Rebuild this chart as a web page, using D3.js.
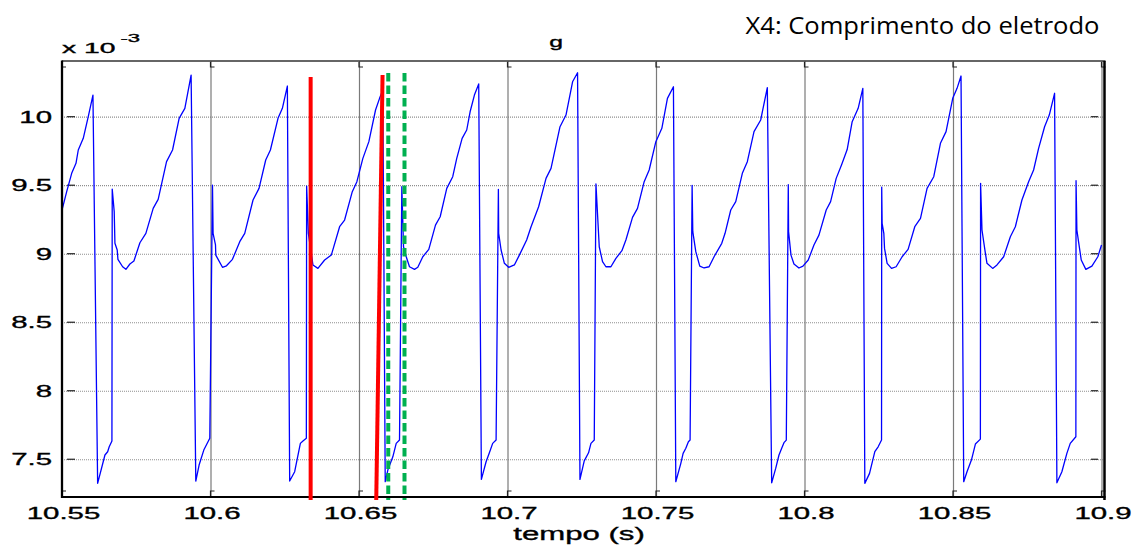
<!DOCTYPE html>
<html>
<head>
<meta charset="utf-8">
<script src="https://cdn.jsdelivr.net/npm/d3@7"></script>
<style>
  html, body { margin: 0; padding: 0; background: #ffffff; }
  svg { display: block; }
</style>
</head>
<body>
<svg id="chart" width="1141" height="549"></svg>
<script>
// ---------- data (time in s, g in units of 1e-3) ----------
const timeS = [
  10.55000,10.55158,10.55326,10.55471,10.55548,10.55716,10.55884,10.56042,
  10.56200,10.56446,10.56537,10.56590,10.56681,
  10.56691,10.56758,10.56782,10.56859,10.56883,10.57041,10.57152,
  10.57286,10.57421,10.57623,10.57824,10.58070,10.58238,10.58520,10.58722,10.58944,10.59136,10.59347,
  10.59505,10.59616,10.59774,10.59976,
  10.60067,10.60087,10.60168,10.60178,10.60403,10.60538,10.60739,10.60985,10.61153,10.61432,10.61634,10.61859,10.62017,10.62273,10.62420,10.62588,
  10.62666,10.62834,10.63026,10.63113,10.63227,
  10.63237,10.63295,10.63449,10.63617,10.63843,10.64068,10.64347,10.64515,10.64774,10.64929,10.65130,10.65332,10.65557,10.65692,10.65803,
  10.65883,10.65971,10.66139,10.66253,10.66364,
  10.66442,10.66499,10.66590,10.66700,10.66869,10.66980,10.67148,10.67350,10.67575,10.67733,10.67955,10.68156,10.68291,10.68472,10.68627,10.68741,10.68886,10.69031,
  10.69121,10.69279,10.69390,10.69501,10.69616,
  10.69693,10.69703,10.69784,10.69895,10.70039,10.70231,10.70399,10.70645,10.70793,10.71048,10.71297,10.71465,10.71768,10.71969,10.72191,10.72359,
  10.72440,10.72584,10.72729,10.72810,10.72921,
  10.72978,10.73089,10.73200,10.73314,10.73482,10.73650,10.73852,10.73986,10.74209,10.74377,10.74602,10.74770,10.74995,10.75197,10.75385,10.75587,
  10.75667,10.75836,10.75913,10.76004,10.76091,10.76148,
  10.76216,10.76239,10.76340,10.76474,10.76619,10.76787,10.76955,10.77214,10.77325,10.77517,10.77685,10.77907,10.78075,10.78300,10.78525,10.78748,
  10.78895,10.79030,10.79141,10.79232,10.79309,10.79387,
  10.79454,10.79464,10.79545,10.79645,10.79813,10.79948,10.80126,10.80318,10.80486,10.80731,10.80879,10.81067,10.81249,10.81437,10.81605,10.81807,10.81964,
  10.82031,10.82190,10.82368,10.82480,10.82594,
  10.82600,10.82614,10.82671,10.82695,10.82782,10.82930,10.83085,10.83287,10.83488,10.83713,10.83905,10.84127,10.84352,10.84577,10.84766,10.84991,10.85136,10.85270,
  10.85361,10.85472,10.85620,10.85754,10.85922,
  10.85929,10.85976,10.86091,10.86144,10.86336,10.86481,10.86706,10.86931,10.87099,10.87321,10.87546,10.87714,10.87882,10.88084,10.88242,10.88420,
  10.88498,10.88666,10.88834,10.88948,10.89137,
  10.89143,10.89171,10.89227,10.89318,10.89473,10.89676,10.89877,10.90000
];
const gValues = [
  9.319,9.453,9.587,9.660,9.757,9.842,10.000,10.158,
  7.324,7.531,7.555,7.591,7.633,
  9.472,9.307,9.076,9.027,8.959,8.905,8.886,
  8.925,8.947,9.080,9.149,9.331,9.397,9.672,9.757,9.988,10.061,10.304,
  7.341,7.458,7.567,7.653,
  9.501,9.149,9.064,8.990,8.901,8.912,8.959,9.088,9.149,9.392,9.477,9.684,9.757,9.988,10.061,10.224,
  7.341,7.409,7.616,7.633,7.653,
  9.494,9.149,8.918,8.893,8.954,8.990,9.197,9.246,9.453,9.526,9.696,9.818,10.049,10.134,10.195,
  7.336,7.421,7.518,7.616,7.640,
  9.489,9.051,8.978,8.905,8.886,8.901,8.978,9.032,9.209,9.270,9.477,9.562,9.696,9.842,9.903,10.036,10.158,10.239,
  7.353,7.482,7.547,7.616,7.640,
  9.470,9.149,9.027,8.930,8.901,8.918,8.990,9.100,9.197,9.343,9.550,9.623,9.927,10.012,10.255,10.321,
  7.353,7.488,7.547,7.616,7.640,
  9.509,9.051,8.942,8.905,8.905,8.966,9.022,9.100,9.265,9.331,9.526,9.611,9.818,9.915,10.134,10.219,
  7.336,7.470,7.543,7.580,7.628,7.640,
  9.499,9.161,9.015,8.910,8.896,8.905,8.978,9.076,9.149,9.319,9.380,9.587,9.672,9.891,9.976,10.212,
  7.328,7.433,7.531,7.580,7.621,7.640,
  9.504,9.161,8.990,8.925,8.896,8.910,8.954,9.064,9.136,9.319,9.380,9.550,9.650,9.760,9.964,10.061,10.207,
  7.324,7.397,7.555,7.591,7.640,
  9.485,9.222,9.149,9.039,8.930,8.893,8.905,8.978,9.032,9.197,9.258,9.477,9.562,9.806,9.891,10.134,10.207,10.297,
  7.336,7.409,7.494,7.611,7.647,
  9.514,9.173,9.003,8.930,8.893,8.918,8.978,9.124,9.197,9.392,9.526,9.611,9.769,9.927,10.012,10.171,
  7.328,7.409,7.543,7.616,7.664,
  9.533,9.173,9.088,8.954,8.886,8.910,8.978,9.064
];

const xTicks = [10.55, 10.6, 10.65, 10.7, 10.75, 10.8, 10.85, 10.9];
const xTickLabels = ["10.55", "10.6", "10.65", "10.7", "10.75", "10.8", "10.85", "10.9"];
const yTicks = [7.5, 8, 8.5, 9, 9.5, 10];
const yTickLabels = ["7.5", "8", "8.5", "9", "9.5", "10"];

// annotation markers (red solid, green dashed)
const redTimeTop = [10.63372, 10.65793];
const redTimeBottom = [10.63372, 10.65581];
const redValueTop = [10.290, 10.304];
const greenTime = [10.65985, 10.66532];
const greenValueTop = [10.319, 10.319];
const markerValueBottom = 7.203;

const titleText = "g";
const xLabelText = "tempo (s)";
const exponentBase = "x 10";
const exponentPower = "-3";
const headerText = "X4: Comprimento do eletrodo";

// ---------- layout ----------
const L = 62, R = 1101.5, T = 61, B = 497;
const svg = d3.select("#chart");

const x = d3.scaleLinear().domain([10.55, 10.9]).range([L, R]);
const y = d3.scaleLinear().domain([7.2245, 10.4066]).range([B, T]);

const fontAxis = "'Liberation Sans', Arial, Helvetica, sans-serif";

svg.append("defs").append("clipPath").attr("id", "plotClip")
  .append("rect").attr("x", L).attr("y", T).attr("width", 1104 - L).attr("height", B - T);

// horizontal grid (dotted)
svg.append("g")
  .attr("transform", `translate(${L},0)`)
  .call(d3.axisLeft(y).tickValues(yTicks).tickSize(-(1104 - L)).tickFormat(""))
  .call(g => g.select(".domain").remove())
  .call(g => g.selectAll("line").attr("stroke", "#8f8f8f").attr("stroke-width", 1.2).attr("stroke-dasharray", "1,1"));

// vertical grid (solid gray)
svg.append("g")
  .attr("transform", `translate(0,${B})`)
  .call(d3.axisBottom(x).tickValues(xTicks.slice(1)).tickSize(-(B - T)).tickFormat(""))
  .call(g => g.select(".domain").remove())
  .call(g => g.selectAll("line").attr("stroke", "#7a7a7a").attr("stroke-width", 1.2));

// inner tick marks on left and right
const tickG = svg.append("g").attr("stroke", "#222").attr("stroke-width", 1.2);
yTicks.forEach(v => {
  tickG.append("line").attr("x1", 67).attr("x2", 75).attr("y1", y(v)).attr("y2", y(v));
  tickG.append("line").attr("x1", 1091).attr("x2", 1098).attr("y1", y(v)).attr("y2", y(v));
});
// inner tick marks on bottom and top (small corner shapes)
xTicks.forEach(t => {
  const px = x(t);
  tickG.append("path").attr("fill", "none")
    .attr("d", `M${px},${B - 1}V${B - 6}h4`);
  tickG.append("path").attr("fill", "none")
    .attr("d", `M${px},${T + 1}V${T + 6}h4`);
});

// blue line
const lineData = timeS.map((t, i) => [t, gValues[i]]);
svg.append("path")
  .datum(lineData)
  .attr("clip-path", "url(#plotClip)")
  .attr("fill", "none")
  .attr("stroke", "#0000ff")
  .attr("stroke-width", 1.3)
  .attr("stroke-linejoin", "round")
  .attr("d", d3.line().x(d => x(d[0])).y(d => y(d[1])));

// frame
const frame = svg.append("g").attr("stroke", "#000");
frame.append("line").attr("x1", L).attr("x2", 1105.5).attr("y1", T).attr("y2", T).attr("stroke-width", 1.5).attr("stroke", "#333");
frame.append("line").attr("x1", L).attr("x2", L).attr("y1", T - 0.5).attr("y2", B + 1).attr("stroke-width", 2.3);
frame.append("line").attr("x1", L - 1).attr("x2", 1105.5).attr("y1", B).attr("y2", B).attr("stroke-width", 2);
frame.append("line").attr("x1", 1104.5).attr("x2", 1104.5).attr("y1", T).attr("y2", B + 3).attr("stroke-width", 2.5);

// annotations: red lines
redTimeTop.forEach((t, i) => {
  svg.append("line")
    .attr("x1", x(t)).attr("y1", y(redValueTop[i]))
    .attr("x2", x(redTimeBottom[i])).attr("y2", y(markerValueBottom))
    .attr("stroke", "#ff0000").attr("stroke-width", 4);
});
// green dashed lines
greenTime.forEach((t, i) => {
  svg.append("line")
    .attr("x1", x(t)).attr("y1", y(greenValueTop[i]))
    .attr("x2", x(t)).attr("y2", y(markerValueBottom))
    .attr("stroke", "#00b050").attr("stroke-width", 4)
    .attr("stroke-dasharray", "8.5,4");
});

// tick labels (wide, stretched Helvetica look)
const SX = 1.7;
function axisText(sel) {
  return sel.attr("font-family", fontAxis).attr("fill", "#000")
    .attr("stroke", "#000").attr("stroke-width", 0.35);
}
xTicks.forEach((t, i) => {
  svg.append("text")
    .attr("transform", `translate(${x(t) + 1.5},518.5) scale(${SX},1)`)
    .attr("text-anchor", "middle")
    .attr("font-size", 17.3)
    .call(axisText)
    .text(xTickLabels[i]);
});
yTicks.forEach((v, i) => {
  svg.append("text")
    .attr("transform", `translate(52,${y(v) + 6}) scale(${SX},1)`)
    .attr("text-anchor", "end")
    .attr("font-size", 17.3)
    .call(axisText)
    .text(yTickLabels[i]);
});

// exponent label
svg.append("text")
  .attr("transform", `translate(62,53.3) scale(1.95,1)`)
  .attr("font-size", 14.5)
  .call(axisText)
  .text(exponentBase);
svg.append("text")
  .attr("transform", `translate(120.5,42) scale(2.1,1)`)
  .attr("font-size", 10.5)
  .call(axisText)
  .text(exponentPower);

// title "g"
svg.append("text")
  .attr("transform", `translate(556,47.3) scale(${SX},1)`)
  .attr("text-anchor", "middle")
  .attr("font-size", 14.5)
  .call(axisText)
  .text(titleText);

// x-axis label
svg.append("text")
  .attr("transform", `translate(579,539.7) scale(1.64,1)`)
  .attr("text-anchor", "middle")
  .attr("font-size", 19)
  .call(axisText)
  .text(xLabelText);

// header text (top right)
svg.append("text")
  .attr("x", 745.5).attr("y", 34)
  .attr("font-family", "'Open Sans', 'Noto Sans', sans-serif")
  .attr("font-size", 23.5)
  .attr("textLength", 354)
  .attr("lengthAdjust", "spacingAndGlyphs")
  .attr("fill", "#000")
  .text(headerText);
</script>
</body>
</html>
